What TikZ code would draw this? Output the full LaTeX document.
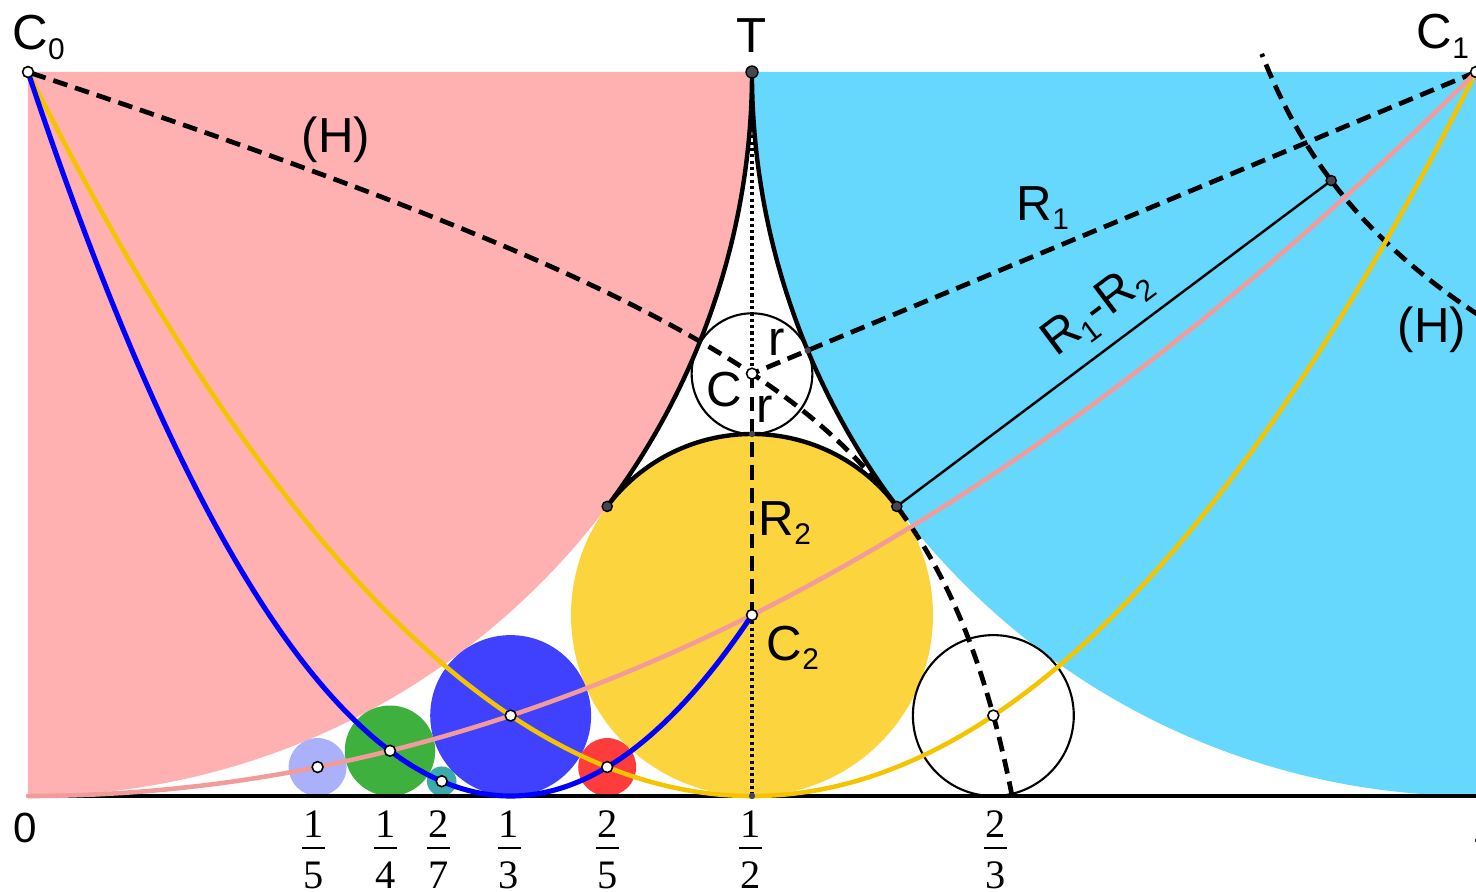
\documentclass[tikz,border=0pt]{standalone}
\usepackage{fontspec}
\setmainfont{Liberation Sans}
\newfontfamily\serifnum{Liberation Serif}
\definecolor{pinkreg}{RGB}{255,177,177}
\definecolor{bluereg}{RGB}{102,216,253}
\definecolor{yel}{RGB}{252,212,61}
\definecolor{lav}{RGB}{170,176,250}
\definecolor{grn}{RGB}{61,176,61}
\definecolor{tealc}{RGB}{58,170,170}
\definecolor{blu}{RGB}{64,64,255}
\definecolor{rd}{RGB}{255,60,60}
\definecolor{pinkc}{RGB}{242,155,155}
\definecolor{yelc}{RGB}{245,196,0}
\definecolor{dotc}{RGB}{70,70,80}
\newcommand\sbs[1]{\raisebox{-2.8pt}{\fontsize{8.5}{10}\selectfont #1}}
\begin{document}
\begin{tikzpicture}[x=14.48cm,y=14.48cm,
  dsh/.style={line width=1.35pt, dash pattern=on 4.2pt off 2.3pt},
  dtt/.style={line width=1.1pt, dash pattern=on 0.9pt off 0.9pt},
  opn/.style={circle, draw=black, fill=white, line width=0.45pt, inner sep=0pt, minimum size=3.1pt},
  drk/.style={circle, draw=black, fill=dotc, line width=0.4pt, inner sep=0pt, minimum size=2.9pt},
  sdrk/.style={circle, fill=dotc, inner sep=0pt, minimum size=1.8pt},
  lab/.style={font=\fontsize{14}{16}\selectfont, inner sep=0pt},
  nlab/.style={font=\fontsize{12}{14}\selectfont, inner sep=0pt},
  frac/.style={font=\serifnum\fontsize{11.5}{13}\selectfont, inner sep=0pt},
  curve/.style={line width=1.3pt, line cap=round}]
\path[use as bounding box] (-0.019337,-0.0656077) rectangle (1.0,0.5497238);
\clip (-0.019337,-0.0656077) rectangle (1.0,0.5497238);
% key points
\coordinate (O) at (0,0);
\coordinate (C0) at (0,0.5);
\coordinate (T) at (0.5,0.5);
\coordinate (C1) at (1,0.5);
\coordinate (C) at (0.5,0.2916667);
\coordinate (C2) at (0.5,0.125);
\coordinate (TL) at (0.4,0.2);
\coordinate (TR) at (0.6,0.2);
\coordinate (P) at (0.9,0.425);
\coordinate (B) at (0.5,0);
\coordinate (E) at (1.02,0);
\coordinate (K1) at (0.5,0.25);
\coordinate (K2) at (0.538462,0.307692);
\coordinate (F15) at (0.2,0.02);
\coordinate (F14) at (0.25,0.03125);
\coordinate (F27) at (0.285714,0.010204);
\coordinate (F13) at (0.333333,0.055556);
\coordinate (F25) at (0.4,0.02);
\coordinate (F23) at (0.666667,0.055556);
% regions
\fill[pinkreg] (C0) -- (T) arc[start angle=0, end angle=-90, radius=0.5] -- cycle;
\fill[bluereg] (C1) -- (T) arc[start angle=180, end angle=270, radius=0.5] -- cycle;
% Ford circles
\fill[yel] (C2) circle[radius=0.125];
\fill[lav] (F15) circle[radius=0.02];
\fill[grn] (F14) circle[radius=0.03125];
\fill[tealc] (F27) circle[radius=0.010204];
\fill[blu] (F13) circle[radius=0.055556];
\fill[rd] (F25) circle[radius=0.02];
\draw[line width=0.6pt] (F23) circle[radius=0.055556];
\draw[line width=0.6pt] (C) circle[radius=0.0416667];
% dashed / dotted construction lines
\draw[dsh] plot[variable=\t, domain=-0.7567:1.6094, samples=150, smooth]
  ({0.75-0.15*exp(\t)}, {0.3125-0.1125*cosh(\t)+0.2*sinh(\t)});
\draw[dsh] plot[variable=\t, domain=-0.62:0.386, samples=60, smooth]
  ({0.75+0.15*exp(-\t)}, {0.3125+0.1125*cosh(\t)+0.2*sinh(\t)});
\draw[dsh] (C1) -- (C);
\draw[dsh] (C) -- (C2);
\draw[dtt] (T) -- (C);
\draw[dtt] (C2) -- (B);
% curvilinear triangle
\draw[line width=1.25pt] (T) arc[start angle=0, end angle=-36.8699, radius=0.5]
  arc[start angle=143.1301, end angle=36.8699, radius=0.125]
  arc[start angle=216.8699, end angle=180, radius=0.5];
\draw[line width=0.7pt] (TR) -- (P);
% axis
\draw[line width=1pt] (O) -- (E);
% parabolas
\draw[curve, yelc] plot[domain=0:1, samples=120, smooth] ({\x},{2*(\x-0.5)*(\x-0.5)});
\draw[curve, pinkc] plot[domain=0:1, samples=120, smooth] ({\x},{0.5*\x*\x});
\draw[curve, line width=1.45pt, blue] plot[domain=0:0.5, samples=120, smooth] ({\x},{4.5*(\x-0.333333)*(\x-0.333333)});
% points
\node[opn] (pC0) at (C0) {};
\node[opn] (pC1) at (C1) {};
\node[opn] (pC) at (C) {};
\node[opn] (pC2) at (C2) {};
\foreach \n in {F15,F14,F27,F13,F25,F23} \node[opn] (p\n) at (\n) {};
\node[drk, minimum size=3.4pt] (pT) at (T) {};
\node[drk] (pTL) at (TL) {};
\node[drk] (pTR) at (TR) {};
\node[drk] (pP) at (P) {};
\node[sdrk] (pB) at (B) {};
\node[sdrk] (pK1) at (K1) {};
\node[sdrk] (pK2) at (K2) {};
% labels (pixel coordinates)
\begin{scope}[shift={(-0.28cm,7.96cm)}, x=0.1mm, y=-0.1mm]
\node[lab, anchor=base west] (lC0) at (12,50) {C\sbs{0}};
\node[lab, anchor=base] (lT) at (752,53) {T};
\node[lab, anchor=base west] (lC1) at (1416,49) {C\sbs{1}};
\node[lab] (lH1) at (336,140) {(H)};
\node[lab] (lH2) at (1432,330) {(H)};
\node[lab, anchor=base west] (lR1) at (1016,220) {R\sbs{1}};
\node[lab, anchor=base] (lr1) at (777,355) {r};
\node[lab, anchor=base] (lC) at (724,406) {C};
\node[lab, anchor=base] (lr2) at (765,422) {r};
\node[lab, anchor=base west] (lR2) at (758,535) {R\sbs{2}};
\node[lab, anchor=base west] (lC2) at (766,660) {C\sbs{2}};
\node[lab, rotate=37] (lR12) at (1097,312) {R\sbs{1}-R\sbs{2}};
\node[nlab] (l0) at (25,828) {0};
\node[nlab] (l1) at (1484,828) {1};
\newcommand\frc[4]{%
  \node[frac, anchor=base] (#1n) at (#2,837) {#3};
  \fill (#2-11.5,847) rectangle (#2+11.5,849);
  \node[frac, anchor=base] (#1d) at (#2,888) {#4};}
\frc{f15}{313.5}{1}{5}
\frc{f14}{385.5}{1}{4}
\frc{f27}{438.5}{2}{7}
\frc{f13}{509}{1}{3}
\frc{f25}{607.5}{2}{5}
\frc{f12}{750.5}{1}{2}
\frc{f23}{995.5}{2}{3}
\end{scope}
\end{tikzpicture}
\end{document}
